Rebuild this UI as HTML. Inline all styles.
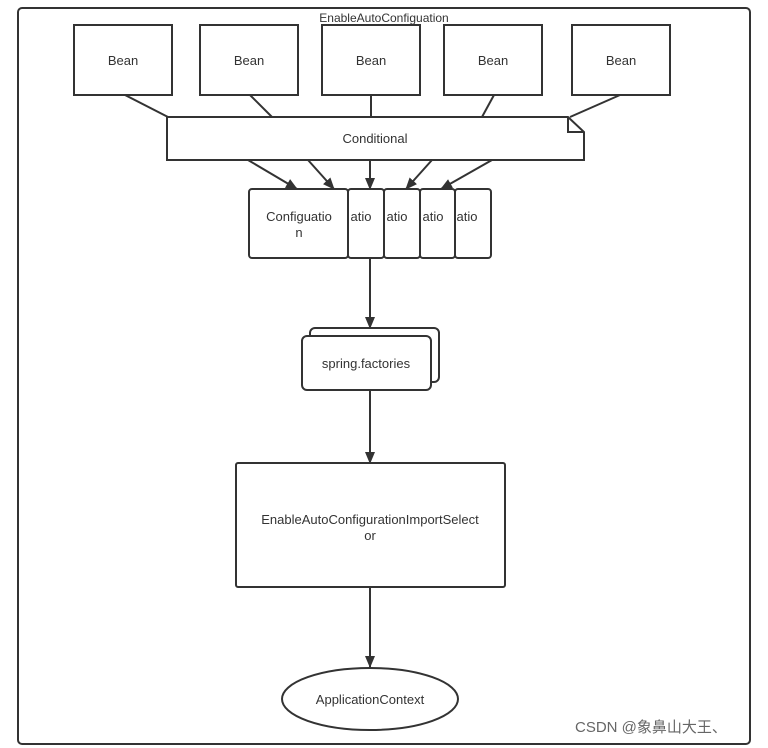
<!DOCTYPE html>
<html><head><meta charset="utf-8"><style>
html,body{margin:0;padding:0;background:#fff;}
svg{display:block;}
text{font-family:"Liberation Sans","Noto Sans CJK SC",sans-serif;fill:#333;}
</style></head><body>
<svg width="768" height="748" viewBox="0 0 768 748" xmlns="http://www.w3.org/2000/svg">
<defs><marker id="a" markerWidth="12" markerHeight="10" refX="11" refY="5" orient="auto" markerUnits="userSpaceOnUse"><path d="M0,0 L12,5 L0,10 Z" fill="#333"/></marker></defs>
<rect x="18" y="8" width="732" height="736" rx="4" fill="#fff" stroke="#333" stroke-width="2"/>
<text x="384" y="22" font-size="12" text-anchor="middle">EnableAutoConfiguation</text>
<g stroke="#333" stroke-width="2" fill="#fff">
<rect x="74" y="25" width="98" height="70"/>
<rect x="200" y="25" width="98" height="70"/>
<rect x="322" y="25" width="98" height="70"/>
<rect x="444" y="25" width="98" height="70"/>
<rect x="572" y="25" width="98" height="70"/>
<line x1="125" y1="95" x2="168" y2="117"/>
<line x1="250" y1="95" x2="272" y2="117"/>
<line x1="371" y1="95" x2="371" y2="117"/>
<line x1="494" y1="95" x2="482" y2="117"/>
<line x1="620" y1="95" x2="570" y2="117"/>
<path d="M167,117 L568,117 L584,132 L584,160 L167,160 Z"/>
<path d="M568,117 L568,132 L584,132" fill="none"/>
<line x1="248" y1="160" x2="297" y2="189" marker-end="url(#a)"/>
<line x1="308" y1="160" x2="334" y2="189" marker-end="url(#a)"/>
<line x1="370" y1="160" x2="370" y2="189" marker-end="url(#a)"/>
<line x1="432" y1="160" x2="406" y2="189" marker-end="url(#a)"/>
<line x1="492" y1="160" x2="441" y2="189" marker-end="url(#a)"/>
<rect x="455" y="189" width="36" height="69" rx="3"/>
<rect x="420" y="189" width="35" height="69" rx="3"/>
<rect x="384" y="189" width="36" height="69" rx="3"/>
<rect x="348" y="189" width="36" height="69" rx="3"/>
<rect x="249" y="189" width="99" height="69" rx="3"/>
<line x1="370" y1="258" x2="370" y2="328" marker-end="url(#a)"/>
<rect x="310" y="328" width="129" height="54" rx="5"/>
<rect x="302" y="336" width="129" height="54" rx="5"/>
<line x1="370" y1="390" x2="370" y2="463" marker-end="url(#a)"/>
<rect x="236" y="463" width="269" height="124" rx="2"/>
<line x1="370" y1="587" x2="370" y2="667" marker-end="url(#a)"/>
<ellipse cx="370" cy="699" rx="88" ry="31"/>
</g>
<g font-size="13" text-anchor="middle">
<text x="123" y="65">Bean</text>
<text x="249" y="65">Bean</text>
<text x="371" y="65">Bean</text>
<text x="493" y="65">Bean</text>
<text x="621" y="65">Bean</text>
<text x="375" y="143">Conditional</text>
<text x="299" y="221">Configuatio</text>
<text x="299" y="237">n</text>
<text x="361" y="221">atio</text>
<text x="397" y="221">atio</text>
<text x="433" y="221">atio</text>
<text x="467" y="221">atio</text>
<text x="366" y="368">spring.factories</text>
<text x="370" y="524">EnableAutoConfigurationImportSelect</text>
<text x="370" y="540">or</text>
<text x="370" y="704">ApplicationContext</text>
</g>
<text x="575" y="732" font-size="15" fill="#555" style="fill:#666">CSDN @象鼻山大王、</text>
</svg>
</body></html>
